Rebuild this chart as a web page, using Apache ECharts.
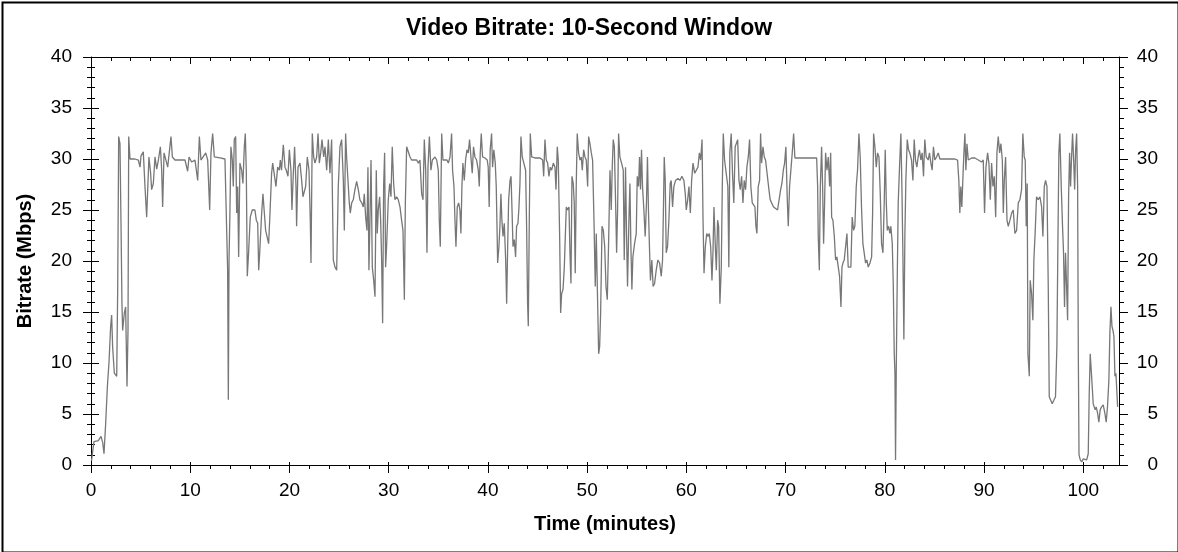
<!DOCTYPE html>
<html>
<head>
<meta charset="utf-8">
<script src="https://cdn.jsdelivr.net/npm/echarts@6/dist/echarts.min.js"></script>
<style>
html,body{margin:0;padding:0;background:#fff;}
#chart{width:1178px;height:552px;}
</style>
</head>
<body>
<div id="chart"></div>
<script>
// [minute, Mbps] readings, grouped by stretch of the timeline
const bitrate00to13 = [[0.05,0.4],[0.30,2.3],[0.74,2.4],[1.01,2.8],[1.18,2.2],[1.31,1.1],[1.48,4.1],[1.65,7.7],[1.81,10.0],[1.98,13.6],[2.08,14.7],[2.18,11.6],[2.35,9.0],[2.59,8.7],[2.69,17.2],[2.79,32.2],[2.92,31.5],[3.02,24.0],[3.12,15.8],[3.19,13.2],[3.36,14.9],[3.49,15.5],[3.63,7.7],[3.73,13.2],[3.80,32.2],[3.93,30.0],[4.43,30.0],[4.77,29.9],[4.94,29.2],[5.04,30.3],[5.27,30.7],[5.44,27.3],[5.61,24.3],[5.84,30.2],[6.01,28.6],[6.11,27.0],[6.28,27.6],[6.45,30.2],[6.62,29.0],[6.79,29.9],[6.99,31.2],[7.12,29.0],[7.22,25.3],[7.36,30.6],[7.52,30.6],[7.73,29.2],[8.06,32.2],[8.20,30.2],[8.46,29.9],[9.47,29.9],[9.74,28.8],[9.88,30.2],[10.14,29.7],[10.48,29.9],[10.75,27.9],[10.92,32.2],[11.08,29.9],[11.56,30.6],[11.76,29.9],[11.96,25.0],[12.09,30.6],[12.26,32.5],[12.43,30.2],[13.00,30.1]];
const bitrate13to26 = [[13.50,30.0],[13.67,30.0],[13.77,19.1],[13.84,6.4],[13.91,20.1],[14.00,24.7],[14.10,31.2],[14.24,29.9],[14.34,27.3],[14.44,31.9],[14.58,32.2],[14.68,24.7],[14.78,27.3],[14.88,20.4],[15.01,29.6],[15.18,28.9],[15.31,27.6],[15.45,31.2],[15.55,32.5],[15.65,28.9],[15.75,18.5],[15.88,20.8],[16.05,24.3],[16.25,25.0],[16.52,25.0],[16.66,24.0],[16.80,23.7],[16.90,19.1],[17.00,20.8],[17.20,24.7],[17.33,26.6],[17.47,24.7],[17.60,23.0],[17.74,22.4],[17.90,21.7],[18.04,24.7],[18.20,28.6],[18.31,29.6],[18.50,28.3],[18.64,27.3],[18.81,29.2],[18.98,28.9],[19.08,29.9],[19.20,28.9],[19.38,31.4],[19.55,29.2],[19.68,28.9],[19.85,28.3],[19.99,30.9],[20.15,28.9],[20.25,25.0],[20.39,28.6],[20.52,31.2],[20.66,27.3],[20.72,23.4],[20.86,29.2],[21.06,29.6],[21.23,27.9],[21.36,26.3],[21.50,26.3],[21.63,27.3],[21.80,30.2],[21.97,28.9],[22.10,24.0],[22.17,19.8],[22.30,32.5],[22.44,30.2],[22.57,29.6],[22.74,30.2],[22.88,32.5],[23.01,29.6],[23.15,30.6],[23.28,31.9],[23.45,30.2],[23.58,31.2],[23.75,28.9],[23.92,31.9],[24.08,28.6],[24.25,31.9],[24.42,20.1],[24.59,19.4],[24.76,19.1],[24.92,27.3],[25.09,31.2],[25.26,31.9],[25.43,27.9],[25.53,23.0],[25.66,32.5]];
const bitrate26to39 = [[25.76,30.2],[25.93,30.2],[26.03,25.7],[26.13,24.7],[26.27,25.7],[26.43,26.0],[26.60,27.0],[26.77,27.8],[26.94,27.0],[27.10,26.0],[27.28,25.7],[27.44,25.3],[27.54,26.6],[27.68,24.3],[27.81,23.0],[27.91,29.2],[28.01,19.1],[28.11,24.0],[28.22,29.9],[28.35,19.4],[28.49,18.1],[28.62,16.5],[28.75,28.9],[28.85,22.7],[28.95,25.0],[29.09,26.3],[29.19,24.0],[29.29,20.1],[29.39,13.9],[29.49,27.3],[29.59,30.6],[29.69,19.4],[29.79,21.4],[29.96,26.0],[30.10,27.6],[30.23,26.3],[30.36,31.2],[30.50,27.6],[30.63,26.0],[30.80,26.3],[30.97,26.0],[31.14,25.3],[31.30,24.0],[31.44,23.0],[31.58,16.2],[31.68,25.7],[31.81,31.2],[31.98,31.2],[32.15,30.2],[32.31,29.9],[32.82,29.9],[32.99,29.6],[33.15,29.9],[33.32,26.6],[33.46,26.0],[33.59,31.9],[33.73,28.9],[33.86,20.8],[33.96,29.2],[34.10,32.2],[34.26,28.9],[34.40,29.9],[34.53,29.9],[34.67,30.2],[34.84,29.9],[35.00,28.9],[35.10,24.0],[35.20,21.4],[35.34,32.5],[35.47,29.9],[35.67,29.9],[35.87,29.9],[36.01,29.6],[36.18,30.2],[36.34,32.5],[36.44,28.9],[36.58,27.3],[36.68,24.0],[36.78,21.4],[36.91,25.3],[37.05,25.7],[37.18,25.0],[37.28,22.7],[37.38,27.3],[37.48,29.6],[37.62,27.9],[37.75,29.9],[37.89,30.9],[38.02,30.6],[38.15,31.9],[38.29,31.9],[38.42,28.6],[38.55,31.2],[38.69,30.2]];
const bitrate39to52 = [[38.86,29.9],[39.03,28.9],[39.13,27.3],[39.23,30.6],[39.33,32.5],[39.46,30.2],[39.70,30.1],[39.93,29.9],[40.03,29.2],[40.13,25.3],[40.23,30.9],[40.37,32.5],[40.47,29.2],[40.60,30.9],[40.74,29.6],[40.84,27.3],[40.91,23.7],[40.98,19.8],[41.11,21.4],[41.21,23.4],[41.31,26.6],[41.41,24.0],[41.52,22.4],[41.65,23.7],[41.79,20.1],[41.89,15.8],[41.99,21.4],[42.09,26.0],[42.23,27.9],[42.33,28.3],[42.43,25.0],[42.53,21.4],[42.66,22.1],[42.79,20.4],[42.89,23.4],[43.03,23.7],[43.13,25.3],[43.23,27.6],[43.33,32.2],[43.46,30.2],[43.66,30.1],[43.80,28.9],[43.90,23.4],[44.00,15.8],[44.07,13.6],[44.17,24.0],[44.27,32.5],[44.41,30.2],[44.74,30.1],[45.25,30.1],[45.52,29.9],[45.62,28.3],[45.75,31.9],[45.88,29.9],[46.02,29.6],[46.15,28.3],[46.28,29.2],[46.42,28.9],[46.59,29.6],[46.76,29.2],[46.86,27.0],[46.99,31.2],[47.09,29.9],[47.23,22.4],[47.33,14.9],[47.43,16.8],[47.57,17.2],[47.70,19.4],[47.80,22.4],[47.90,25.3],[48.03,25.0],[48.17,25.3],[48.27,20.8],[48.37,17.8],[48.47,28.3],[48.60,27.6],[48.70,25.7],[48.80,18.8],[48.90,27.3],[49.00,32.5],[49.14,30.6],[49.28,29.9],[49.41,30.2],[49.51,28.9],[49.65,30.9],[49.78,30.2],[49.91,29.9],[50.05,27.3],[50.15,32.2],[50.28,31.5],[50.42,30.6],[50.55,29.9],[50.69,24.0],[50.82,17.5],[50.92,22.7],[51.06,15.8],[51.16,10.9],[51.26,11.6],[51.36,14.9],[51.50,23.4],[51.63,23.0],[51.77,21.4],[51.90,17.5],[52.03,16.2],[52.17,22.1]];
const bitrate52to65 = [[52.30,28.9],[52.43,25.0],[52.53,29.2],[52.63,31.9],[52.74,31.2],[52.87,25.7],[52.97,20.8],[53.07,25.0],[53.17,32.5],[53.30,30.2],[53.47,29.6],[53.64,28.9],[53.74,20.1],[53.87,29.2],[53.97,22.7],[54.07,17.5],[54.21,24.0],[54.31,27.6],[54.41,21.4],[54.51,17.2],[54.61,20.4],[54.78,21.7],[54.95,22.7],[55.05,28.3],[55.18,27.3],[55.28,30.2],[55.38,27.0],[55.48,30.9],[55.58,27.3],[55.72,25.0],[55.85,22.4],[55.98,25.7],[56.08,30.2],[56.18,25.0],[56.28,21.4],[56.38,18.1],[56.52,20.1],[56.65,17.5],[56.80,17.8],[56.96,19.1],[57.13,20.1],[57.30,19.8],[57.47,18.5],[57.60,20.1],[57.70,25.7],[57.77,30.2],[57.87,27.9],[57.97,20.8],[58.10,21.4],[58.24,24.0],[58.37,27.6],[58.47,27.9],[58.61,25.3],[58.74,27.3],[58.91,27.9],[59.15,28.1],[59.35,27.9],[59.55,28.3],[59.75,27.9],[59.89,26.6],[59.99,25.0],[60.13,26.0],[60.26,27.3],[60.40,24.7],[60.53,27.9],[60.67,29.6],[60.84,28.6],[61.00,28.6],[61.17,29.2],[61.31,30.6],[61.44,29.9],[61.58,31.9],[61.68,24.0],[61.78,18.8],[61.91,21.4],[62.05,22.7],[62.18,22.4],[62.31,22.7],[62.45,21.4],[62.58,18.1],[62.68,20.8],[62.78,25.3],[62.92,21.4],[63.02,19.1],[63.15,24.0],[63.25,23.4],[63.38,15.8],[63.52,19.4],[63.62,27.3],[63.72,32.5],[63.85,29.9],[64.05,29.9],[64.18,27.3],[64.28,19.4],[64.38,30.6],[64.52,32.5],[64.65,28.6],[64.78,25.7],[64.92,31.2]];
const bitrate65to78 = [[65.03,31.2],[65.17,31.9],[65.30,27.9],[65.43,27.0],[65.57,28.3],[65.70,25.7],[65.83,27.9],[65.97,27.0],[66.10,29.2],[66.24,30.2],[66.37,31.9],[66.50,27.3],[66.64,25.7],[66.77,25.7],[66.91,25.3],[67.01,23.4],[67.11,22.7],[67.24,27.3],[67.38,27.9],[67.48,32.5],[67.58,29.6],[67.72,31.2],[67.85,30.2],[67.98,29.9],[68.18,29.9],[68.32,27.0],[68.45,26.0],[68.59,25.7],[68.79,25.3],[68.99,25.2],[69.19,25.0],[69.36,25.0],[69.50,27.0],[69.63,27.6],[69.77,28.9],[69.90,29.6],[70.03,31.2],[70.17,26.0],[70.27,23.4],[70.40,27.3],[70.54,27.3],[70.67,30.6],[70.81,32.5],[70.94,30.1],[71.61,30.1],[72.29,30.1],[73.13,30.1],[73.23,27.3],[73.29,22.4],[73.40,19.1],[73.50,27.3],[73.63,31.2],[73.73,27.3],[73.83,21.7],[73.93,25.7],[74.03,30.6],[74.17,28.9],[74.30,30.2],[74.44,27.3],[74.54,30.6],[74.64,24.3],[74.77,24.0],[74.91,22.4],[75.04,20.1],[75.17,20.4],[75.31,19.4],[75.44,18.5],[75.58,15.5],[75.68,19.4],[75.78,19.8],[75.91,20.1],[76.05,20.1],[76.18,22.7],[76.31,19.4],[76.45,19.4],[76.58,19.4],[76.71,24.3],[76.85,23.0],[76.98,23.4],[77.12,27.3],[77.25,28.9],[77.39,32.5],[77.52,30.2],[77.65,25.3],[77.79,21.7],[77.92,20.8]];
const bitrate78to91 = [[78.06,19.8],[78.19,20.1],[78.33,19.4],[78.50,19.8],[78.67,20.4],[78.77,24.7],[78.87,32.5],[79.00,31.2],[79.14,29.2],[79.27,30.6],[79.41,30.2],[79.54,26.6],[79.67,21.7],[79.81,20.8],[79.94,25.7],[80.04,30.9],[80.15,25.7],[80.25,23.0],[80.38,23.4],[80.51,22.7],[80.61,23.4],[80.75,21.7],[80.85,17.8],[80.95,10.9],[81.02,9.0],[81.08,0.5],[81.15,9.0],[81.25,18.1],[81.35,25.7],[81.48,29.2],[81.62,32.5],[81.72,27.3],[81.82,20.8],[81.92,12.3],[82.02,22.4],[82.12,27.9],[82.26,31.9],[82.39,30.9],[82.52,30.6],[82.69,29.9],[82.83,27.9],[82.96,31.9],[83.09,29.9],[83.23,29.2],[83.36,30.2],[83.49,30.9],[83.63,29.9],[83.76,30.6],[83.90,28.3],[84.03,31.9],[84.17,30.2],[84.37,29.9],[84.50,30.6],[84.64,29.6],[84.77,28.9],[84.90,31.2],[85.04,29.9],[85.21,30.2],[85.38,30.6],[85.55,30.0],[86.05,30.0],[86.55,30.0],[87.06,30.0],[87.33,29.9],[87.46,27.9],[87.56,24.7],[87.66,27.3],[87.76,25.3],[87.86,27.9],[87.97,30.6],[88.07,32.5],[88.17,28.9],[88.28,31.5],[88.41,29.9],[88.75,30.1],[89.08,30.1],[89.42,29.9],[89.75,29.7],[89.92,29.9],[90.05,24.7],[90.19,29.2],[90.36,30.6],[90.49,29.6],[90.63,26.0],[90.76,29.6],[90.90,27.3],[91.03,28.3],[91.17,24.3]];
const bitrate91to104 = [[91.30,30.6],[91.43,32.2],[91.57,30.6],[91.70,31.5],[91.84,29.9],[91.94,24.7],[92.04,27.9],[92.17,30.2],[92.31,24.0],[92.44,23.4],[92.61,24.0],[92.78,24.7],[92.94,25.0],[93.11,22.7],[93.28,23.0],[93.45,25.7],[93.61,26.0],[93.78,27.0],[93.91,32.5],[94.05,30.2],[94.15,29.9],[94.25,23.4],[94.35,27.6],[94.42,10.9],[94.56,8.7],[94.65,18.1],[94.79,16.8],[94.92,14.2],[95.02,20.1],[95.16,23.0],[95.29,26.3],[95.46,26.0],[95.63,26.3],[95.80,25.3],[95.93,22.4],[96.07,27.3],[96.20,27.9],[96.34,27.3],[96.47,17.5],[96.57,6.7],[96.70,6.4],[96.87,6.0],[97.04,6.0],[97.20,6.7],[97.34,11.6],[97.44,21.4],[97.54,30.6],[97.64,32.5],[97.78,27.3],[97.91,23.4],[98.01,20.8],[98.11,15.5],[98.21,20.8],[98.32,17.5],[98.42,14.2],[98.52,26.3],[98.62,30.6],[98.72,27.3],[98.82,30.2],[98.92,32.5],[99.03,29.9],[99.13,27.0],[99.23,30.9],[99.33,32.5],[99.43,27.3],[99.50,10.9],[99.57,1.0],[99.70,0.5],[99.84,0.3],[100.00,0.6],[100.17,0.7],[100.34,0.5],[100.50,1.1],[100.60,7.0],[100.70,10.9],[100.80,9.3],[100.90,7.7],[101.00,6.0],[101.10,5.7],[101.20,5.4],[101.30,5.7],[101.44,5.1],[101.57,4.2],[101.70,5.4],[101.84,5.7],[102.01,5.9],[102.17,5.1],[102.31,4.2],[102.44,5.7],[102.58,8.3],[102.68,12.9],[102.79,15.5],[102.89,13.6],[102.99,13.2],[103.09,12.6],[103.19,8.7],[103.29,9.0],[103.46,5.7]];

const xMajorTicks = [0,10,20,30,40,50,60,70,80,90,100];
const xMinorTicks = [0,2,4,6,8,10,12,14,16,18,20,22,24,26,28,30,32,34,36,38,40,42,44,46,48,50,52,54,56,58,60,62,64,66,68,70,72,74,76,78,80,82,84,86,88,90,92,94,96,98,100,102];
const xMin = 0, xMax = 103.6;
const yMin = 0, yMax = 40, yStep = 5;

const chartTitle = 'Video Bitrate: 10-Second Window';
const xName = 'Time (minutes)';
const yName = 'Bitrate (Mbps)';

const allPoints = [].concat(bitrate00to13, bitrate13to26, bitrate26to39, bitrate39to52,
  bitrate52to65, bitrate65to78, bitrate78to91, bitrate91to104);

const FONT = 'Arial, "Liberation Sans", sans-serif';
const lineCol = '#000';

function xAxisDef(opts) {
  return Object.assign({
    type: 'value', min: xMin, max: xMax, interval: 10,
    axisLine: { show: false, onZero: false, lineStyle: { color: lineCol, width: 1 } },
    axisTick: { show: true, inside: false, length: 4, lineStyle: { color: lineCol, width: 1 } },
    axisLabel: { show: false },
    splitLine: { show: false },
    minorTick: { show: false },
    splitArea: { show: false }
  }, opts);
}
function yAxisDef(opts) {
  return Object.assign({
    type: 'value', min: yMin, max: yMax, interval: yStep,
    axisLine: { show: false, onZero: false, lineStyle: { color: lineCol, width: 1 } },
    axisTick: { show: true, inside: false, length: 4, lineStyle: { color: lineCol, width: 1 } },
    minorTick: { show: true, splitNumber: 5, length: 4, lineStyle: { color: lineCol, width: 1 } },
    axisLabel: { show: false },
    splitLine: { show: false },
    splitArea: { show: false }
  }, opts);
}

const chart = echarts.init(document.getElementById('chart'), null, { renderer: 'canvas' });
chart.setOption({
  animation: false,
  backgroundColor: '#fff',
  title: {
    text: chartTitle, left: 'center', top: 17, padding: 0,
    textStyle: { fontFamily: FONT, fontSize: 23, fontWeight: 'bold', color: '#000' }
  },
  grid: { left: 91, right: 59, top: 57, bottom: 87, containLabel: false, outerBoundsMode: 'none' },
  xAxis: [
    xAxisDef({
      position: 'bottom',
      axisLine: { show: true, onZero: false, lineStyle: { color: lineCol, width: 1 } },
      axisTick: { show: true, inside: false, length: 8, customValues: xMajorTicks, lineStyle: { color: lineCol, width: 1 } },
      axisLabel: { show: true, customValues: xMajorTicks, margin: 16, fontFamily: FONT, fontSize: 19, color: '#000' },
      name: xName, nameLocation: 'middle', nameGap: 49,
      nameTextStyle: { fontFamily: FONT, fontSize: 20, fontWeight: 'bold', color: '#000' }
    }),
    xAxisDef({ position: 'bottom', axisTick: { show: true, inside: false, length: 4, customValues: xMinorTicks, lineStyle: { color: lineCol, width: 1 } } }),
    xAxisDef({ position: 'bottom', axisTick: { show: true, inside: true, length: 3, customValues: xMajorTicks, lineStyle: { color: lineCol, width: 1 } } }),
    xAxisDef({
      position: 'top',
      axisLine: { show: true, onZero: false, lineStyle: { color: lineCol, width: 1 } },
      axisTick: { show: true, inside: true, length: 7, customValues: xMajorTicks, lineStyle: { color: lineCol, width: 1 } }
    }),
    xAxisDef({ position: 'top', axisTick: { show: true, inside: true, length: 4, customValues: xMinorTicks, lineStyle: { color: lineCol, width: 1 } } })
  ],
  yAxis: [
    yAxisDef({
      position: 'left',
      axisLine: { show: true, onZero: false, lineStyle: { color: lineCol, width: 1 } },
      axisTick: { show: true, inside: false, length: 8, lineStyle: { color: lineCol, width: 1 } },
      minorTick: { show: true, splitNumber: 5, length: 4, lineStyle: { color: lineCol, width: 1 } },
      axisLabel: { show: true, margin: 19, fontFamily: FONT, fontSize: 19, color: '#000' },
      name: yName, nameLocation: 'middle', nameGap: 56,
      nameTextStyle: { fontFamily: FONT, fontSize: 20, fontWeight: 'bold', color: '#000' }
    }),
    yAxisDef({
      position: 'left',
      axisTick: { show: true, inside: true, length: 8, lineStyle: { color: lineCol, width: 1 } },
      minorTick: { show: true, splitNumber: 5, length: 4, lineStyle: { color: lineCol, width: 1 } }
    }),
    yAxisDef({
      position: 'right',
      axisLine: { show: true, onZero: false, lineStyle: { color: lineCol, width: 1 } },
      axisTick: { show: true, inside: false, length: 9, lineStyle: { color: lineCol, width: 1 } },
      minorTick: { show: true, splitNumber: 5, length: 5, lineStyle: { color: lineCol, width: 1 } },
      axisLabel: { show: true, margin: 39, align: 'right', fontFamily: FONT, fontSize: 19, color: '#000' }
    })
  ],
  series: [{
    type: 'line',
    xAxisIndex: 0, yAxisIndex: 0,
    data: allPoints,
    showSymbol: false,
    symbol: 'none',
    lineStyle: { color: '#777777', width: 1.3 },
    itemStyle: { color: '#777777' },
    emphasis: { disabled: true },
    silent: true,
    clip: true,
    z: 1
  }],
  graphic: [{
    type: 'rect', left: 0, top: 0, z: 100, silent: true,
    shape: { x: 1, y: 1, width: 1176, height: 550 },
    style: { fill: 'none', stroke: '#000', lineWidth: 2 }
  }]
});
</script>
</body>
</html>
